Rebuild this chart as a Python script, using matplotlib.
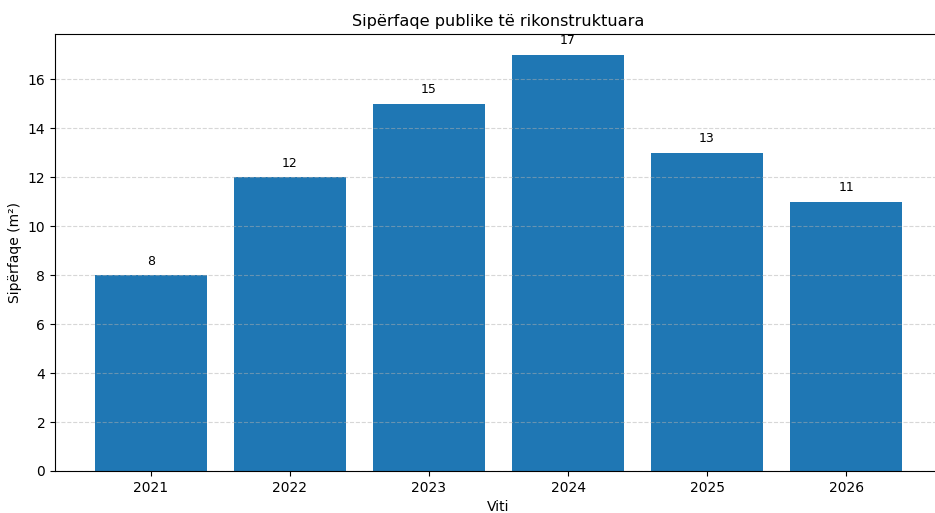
import matplotlib
matplotlib.use("Agg")
import matplotlib.pyplot as plt

years = ["2021", "2022", "2023", "2024", "2025", "2026"]
area = [8, 12, 15, 17, 13, 11]

fig = plt.figure(figsize=(9.35, 5.13), dpi=100)
ax = fig.add_axes([0.0588, 0.0819, 0.9487, 0.8518])

bars = ax.bar(years, area, color="#1f77b4", width=0.8)
for bar, v in zip(bars, area):
    ax.text(bar.get_x() + bar.get_width() / 2, v + 0.3, f"{v}",
            ha="center", va="bottom", fontsize=9)

ax.yaxis.grid(True, linestyle="--", alpha=0.5)
ax.spines["right"].set_visible(False)  # cropped off in the original
ax.set_title("Sipërfaqe publike të rikonstruktuara", fontsize=11.6)
ax.set_xlabel("Viti")
ax.set_ylabel("Sipërfaqe (m²)")

fig.savefig("out.png", dpi=100)
